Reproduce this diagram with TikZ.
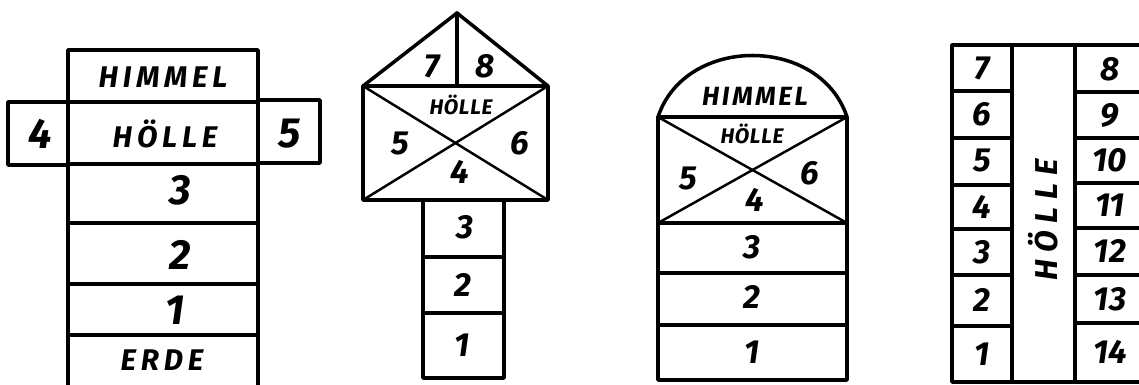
\documentclass[tikz,border=0pt]{standalone}
\usepackage{fontspec}
\setmainfont{Fira Sans}
\usetikzlibrary{calc}
\tikzset{
  pen/.style={line width=2pt, line cap=round, line join=round, black},
  thin pen/.style={line width=1.4pt, line cap=round, black},
  big/.style={font=\fontsize{24}{24}\selectfont\bfseries\itshape},
  mid/.style={font=\fontsize{19}{19}\selectfont\bfseries\itshape},
  word/.style={font=\fontsize{17}{17}\selectfont\bfseries\itshape\addfontfeature{LetterSpace=16}},
  small word/.style={font=\fontsize{12}{12}\selectfont\bfseries\itshape\addfontfeature{LetterSpace=3}}
}

\begin{document}
\begin{tikzpicture}[x=0.02cm,y=-0.02cm]
  \useasboundingbox (0,0) rectangle (1139,385);

  % 1: ladder with side boxes
  \draw[pen] (68,385) -- (68,50) -- (258,50) -- (258,385);
  \draw[pen] (68,102) -- (258,102);
  \draw[pen] (8,102) rectangle (68,165);
  \draw[pen] (258,100) rectangle (320,163);
  \foreach \y in {164,223,284,335}{
    \draw[pen] (68,\y) -- (258,\y);
  }
  \node[word] (himA) at (163,77) {HIMMEL};
  \node[word] (holA) at (165,134) {HÖLLE};
  \node[big] (a4) at (40,134) {4};
  \node[big] (a5) at (290,134) {5};
  \node[big] (a3) at (180,190) {3};
  \node[big] (a2) at (180,255) {2};
  \node[big] (a1) at (175,310) {1};
  \node[word] (erde) at (162,360) {ERDE};

  % 2: house with roof
  \coordinate (apex) at (457,13);
  \coordinate (tl) at (363,86);
  \coordinate (tr) at (548,86);
  \coordinate (bl) at (363,200);
  \coordinate (br) at (548,200);
  \draw[pen] (tl) -- (apex) -- (tr);
  \draw[pen] (apex) -- (457,86);
  \draw[pen] (tl) rectangle (br);
  \draw[thin pen] (tl) -- (br);
  \draw[thin pen] (tr) -- (bl);
  \draw[pen] (423,200) -- (423,378) -- (504,378) -- (504,200);
  \foreach \y in {257,313}{
    \draw[pen] (423,\y) -- (504,\y);
  }
  \node[mid] (b7) at (432,66) {7};
  \node[mid] (b8) at (485,66) {8};
  \node[small word] (holB) at (461,105) {HÖLLE};
  \node[mid] (b5) at (400,144) {5};
  \node[mid] (b6) at (520,143) {6};
  \node[mid] (b4) at (460,172) {4};
  \node[mid] (b3) at (465,227) {3};
  \node[mid] (b2) at (463,285) {2};
  \node[mid] (b1) at (462,345) {1};

  % 3: dome
  \draw[pen] (658,117) rectangle (847,380);
  \draw[pen] (658,117) .. controls (685,35) and (820,35) .. (847,117);
  \draw[thin pen] (658,117) -- (847,223);
  \draw[thin pen] (847,117) -- (658,223);
  \foreach \y in {223,273,325}{
    \draw[pen] (658,\y) -- (847,\y);
  }
  \node[small word,font=\fontsize{15}{15}\selectfont\bfseries\itshape\addfontfeature{LetterSpace=10}] (himC) at (755,96) {HIMMEL};
  \node[small word] (holC) at (752,134) {HÖLLE};
  \node[mid] (c5) at (688,178) {5};
  \node[mid] (c6) at (810,173) {6};
  \node[mid] (c4) at (755,200) {4};
  \node[mid] (c3) at (752,247) {3};
  \node[mid] (c2) at (752,297) {2};
  \node[mid] (c1) at (752,352) {1};

  % 4: two columns around the middle strip
  \draw[pen] (1139,45) -- (952,45) -- (952,382) -- (1139,382);
  \draw[pen] (1012,45) -- (1012,382);
  \draw[pen] (1075,45) -- (1075,382);
  \foreach \y in {91,138,185,229,275,326}{
    \draw[pen] (952,\y) -- (1012,\y);
  }
  \foreach \y in {92,138,183,228,275,323}{
    \draw[pen] (1075,\y) -- (1139,\y);
  }
  \foreach \n/\y in {7/68,6/114,5/161,4/207,3/252,2/300,1/354}{
    \node[mid] (l\n) at (982,\y) {\n};
  }
  \foreach \n/\y in {8/69,9/115,10/160,11/205,12/251,13/299,14/352}{
    \node[mid] (r\n) at (1110,\y) {\n};
  }
  \node[word,rotate=90,font=\fontsize{18}{18}\selectfont\bfseries\itshape\addfontfeature{LetterSpace=24}] (holD) at (1043,220) {HÖLLE};
\end{tikzpicture}
\end{document}
